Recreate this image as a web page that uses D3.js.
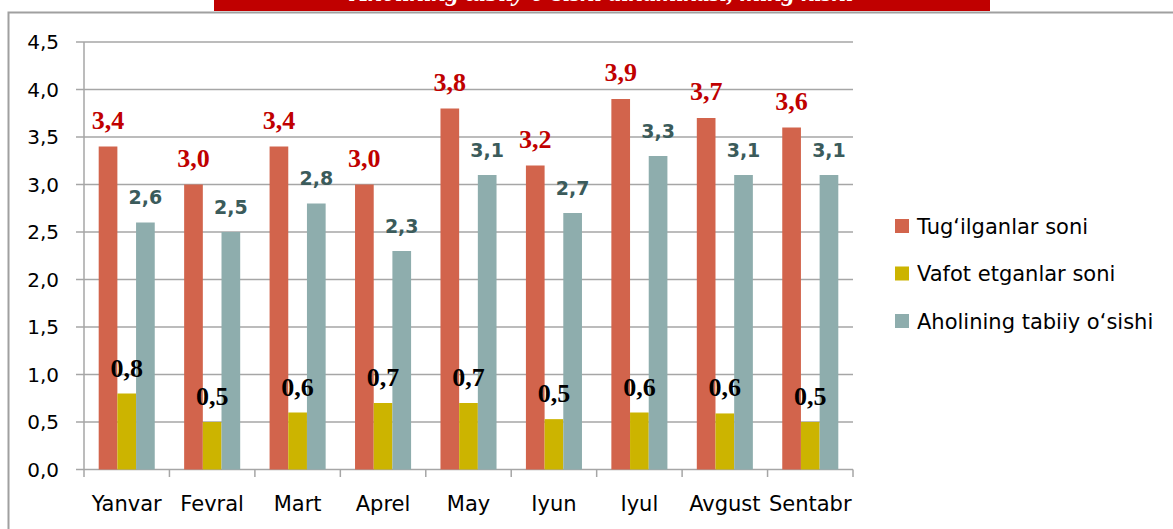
<!DOCTYPE html>
<html><head><meta charset="utf-8">
<script src="https://cdn.jsdelivr.net/npm/d3@7"></script>
<style>body{margin:0;background:#fff;}svg{display:block;}</style>
</head><body>
<svg id="c" width="1173" height="529"></svg>
<script>
const months = ["Yanvar","Fevral","Mart","Aprel","May","Iyun","Iyul","Avgust","Sentabr"];
const births = [3.4,3.0,3.4,3.0,3.8,3.2,3.9,3.7,3.6];
const deaths = [0.8,0.5,0.6,0.7,0.7,0.53,0.6,0.59,0.5];
const growth = [2.6,2.5,2.8,2.3,3.1,2.7,3.3,3.1,3.1];
const seriesNames = ["Tug‘ilganlar soni","Vafot etganlar soni","Aholining tabiiy o‘sishi"];
const yTicks = [0,0.5,1.0,1.5,2.0,2.5,3.0,3.5,4.0,4.5];
const title = "Aholining tabiiy o‘sishi dinamikasi, ming kishi";

const colors = ["#D2644C","#CCB400","#8EADAD"];
const labelColors = ["#C00000","#000000","#3B5B5B"];
const series = [births, deaths, growth];

const svg = d3.select("#c");
const fmt = v => d3.format(".1f")(v).replace(".", ",");

// banner + frame
svg.append("rect").attr("x",214).attr("y",0).attr("width",776).attr("height",11).attr("fill","#C00000");
svg.append("defs").append("clipPath").attr("id","bclip").append("rect").attr("x",214).attr("y",0).attr("width",776).attr("height",11);
svg.append("text").attr("clip-path","url(#bclip)").attr("x",602).attr("y",1)
  .attr("text-anchor","middle").attr("fill","#fff").attr("font-family","Liberation Serif")
  .attr("font-weight","bold").attr("font-style","italic").attr("font-size",26).text(title);
svg.append("path").attr("d","M8.5,529 V12.5 H1173").attr("fill","none").attr("stroke","#A0A0A0").attr("stroke-width",2);

const x0 = 84, x1 = 853, yBottom = 469.5, yTop = 42;
const x = d3.scaleBand().domain(months).range([x0,x1]).paddingInner(0.344).paddingOuter(0.172);
const xs = d3.scaleBand().domain([0,1,2]).range([0,x.bandwidth()]);
const y = d3.scaleLinear().domain([0,4.5]).range([yBottom,yTop]);

// gridlines
svg.append("g").selectAll("line").data(yTicks).join("line")
  .attr("x1",76).attr("x2",x1).attr("y1",d=>y(d)).attr("y2",d=>y(d))
  .attr("stroke","#A6A6A6").attr("stroke-width",1.5);
// y axis line
svg.append("line").attr("x1",x0).attr("x2",x0).attr("y1",yTop).attr("y2",yBottom)
  .attr("stroke","#A6A6A6").attr("stroke-width",1.5);
// y tick labels
svg.append("g").selectAll("text").data(yTicks).join("text")
  .attr("x",59).attr("y",d=>y(d)).attr("dy","0.36em").attr("text-anchor","end")
  .attr("font-family","DejaVu Sans").attr("font-size",20).attr("fill","#000").text(d=>fmt(d));
// x ticks at boundaries
const bounds = months.map((m,i)=>x0 + i*x.step()).concat([x1]);
svg.append("g").selectAll("line").data(bounds).join("line")
  .attr("x1",d=>d).attr("x2",d=>d).attr("y1",yBottom).attr("y2",477)
  .attr("stroke","#A6A6A6").attr("stroke-width",1.5);

// bars
series.forEach((vals,si)=>{
  svg.append("g").selectAll("rect").data(vals).join("rect")
    .attr("x",(d,i)=>x(months[i])+xs(si)).attr("width",xs.bandwidth())
    .attr("y",d=>y(d)).attr("height",d=>yBottom-y(d)).attr("fill",colors[si]);
});
// labels
const labelStyle = [
  {font:"Liberation Serif", size:26, off:18},
  {font:"Liberation Serif", size:26, off:17},
  {font:"DejaVu Sans", size:19, off:18.5}
];
series.forEach((vals,si)=>{
  svg.append("g").selectAll("text").data(vals).join("text")
    .attr("x",(d,i)=>x(months[i])+xs(si)+xs.bandwidth()/2)
    .attr("y",d=>y(d)-labelStyle[si].off)
    .attr("text-anchor","middle").attr("font-family",labelStyle[si].font)
    .attr("font-weight","bold").attr("font-size",labelStyle[si].size)
    .attr("fill",labelColors[si]).text(d=>fmt(d));
});
// x labels
svg.append("g").selectAll("text").data(months).join("text")
  .attr("x",d=>x(d)+x.bandwidth()/2).attr("y",511)
  .attr("text-anchor","middle").attr("font-family","DejaVu Sans").attr("font-size",21)
  .attr("fill","#000").text(d=>d);

// legend
const lg = svg.append("g");
seriesNames.forEach((n,i)=>{
  const cy = 226 + i*47.5;
  lg.append("rect").attr("x",895).attr("y",cy-7).attr("width",14).attr("height",14).attr("fill",colors[i]);
  lg.append("text").attr("x",917).attr("y",cy).attr("dy","0.36em")
    .attr("font-family","DejaVu Sans").attr("font-size",21).attr("fill","#000").text(n);
});
</script>
</body></html>
